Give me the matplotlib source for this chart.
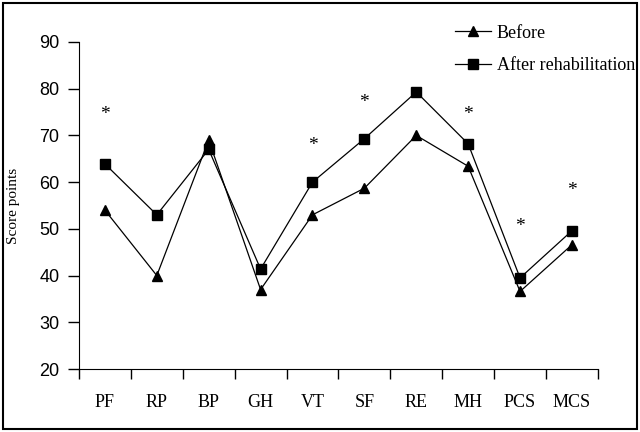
import matplotlib
matplotlib.use('Agg')
import matplotlib.pyplot as plt
from matplotlib.patches import Rectangle

# SF-36 domains and summary scores
categories = ['PF', 'RP', 'BP', 'GH', 'VT', 'SF', 'RE', 'MH', 'PCS', 'MCS']
before = [54, 40, 69, 37, 53, 58.7, 70, 63.4, 36.6, 46.6]
after = [63.9, 53, 67, 41.4, 60, 69.3, 79.3, 68.2, 39.5, 49.6]
# significance markers (* positions)
star_idx = [0, 4, 5, 7, 8, 9]
star_y = [74.4, 67.8, 77, 74.4, 50.6, 58.2]

serif = ['Liberation Serif', 'DejaVu Serif']
sans = ['Liberation Sans', 'DejaVu Sans']

fig = plt.figure(figsize=(6.4, 4.32), dpi=100)
ax = fig.add_axes([0.1234, 0.1458, 0.8108, 0.757])

x = list(range(len(categories)))
ax.plot(x, before, color='black', lw=0.9, marker='^', ms=7, label='Before')
ax.plot(x, after, color='black', lw=0.9, marker='s', ms=6.5, label='After rehabilitation')

for i, yv in zip(star_idx, star_y):
    ax.text(x[i], yv, '*', ha='center', va='center', fontsize=14, family=serif)

ax.set_xlim(-0.5, len(categories) - 0.5)
ax.set_ylim(20, 90)
ax.set_yticks(range(20, 91, 10))
ax.set_xticks([i - 0.5 for i in range(len(categories) + 1)])
ax.set_xticklabels([])
ax.set_xticks(x, minor=True)
ax.set_xticklabels(categories, minor=True, family=serif, fontsize=13)
ax.tick_params(axis='x', which='major', length=7, width=1, direction='out')
ax.tick_params(axis='x', which='minor', length=0, pad=18)
ax.tick_params(axis='y', length=8, width=1, direction='out', pad=6)
for lab in ax.get_yticklabels():
    lab.set_family(sans)
    lab.set_fontsize(13)

ax.spines['top'].set_visible(False)
ax.spines['right'].set_visible(False)
ax.set_ylabel('Score points', family=serif, fontsize=11, labelpad=14)

leg = ax.legend(loc='upper right', bbox_to_anchor=(1.085, 1.075), frameon=False,
                prop={'family': serif, 'size': 13}, handlelength=2.0,
                handletextpad=0.3, labelspacing=0.85, borderaxespad=0)

fig.patches.append(Rectangle((0.005, 0.008), 0.99, 0.985, transform=fig.transFigure,
                             fill=False, edgecolor='black', lw=1.5))

fig.savefig('out.png', dpi=100)
